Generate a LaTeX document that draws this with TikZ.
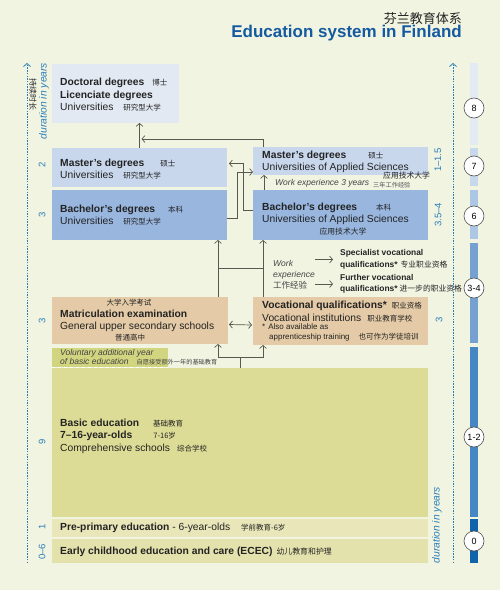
\documentclass[tikz,border=0pt]{standalone}
\usepackage{fontspec}
\setmainfont{Liberation Sans}
\newfontfamily\cjk{Noto Sans CJK SC}
\usetikzlibrary{positioning}
\usetikzlibrary{calc}
\usetikzlibrary{arrows.meta}
\definecolor{paper}{RGB}{242,244,226}
\definecolor{ink}{RGB}{35,35,35}
\definecolor{wire}{RGB}{88,88,78}
\definecolor{titleblue}{RGB}{20,90,160}
\definecolor{axisblue}{RGB}{40,125,185}
\definecolor{docblue}{RGB}{226,233,243}
\definecolor{masblue}{RGB}{200,215,236}
\definecolor{bacblue}{RGB}{152,182,222}
\definecolor{sand}{RGB}{228,202,166}
\definecolor{olive}{RGB}{221,220,150}
\definecolor{olivedark}{RGB}{210,213,128}
\definecolor{prefill}{RGB}{233,231,185}
\definecolor{ecfill}{RGB}{227,225,172}
\definecolor{barA}{RGB}{226,234,244}
\definecolor{barB}{RGB}{200,216,236}
\definecolor{barC}{RGB}{172,198,230}
\definecolor{barD}{RGB}{118,160,210}
\definecolor{barE}{RGB}{70,135,195}
\definecolor{barF}{RGB}{15,100,170}
\newcommand{\zh}[2][7.5]{{\cjk\mdseries\upshape\fontsize{#1}{#1}\selectfont #2}}

\begin{document}
\begin{tikzpicture}
    [x=1pt, y=-1pt,
    >={Straight Barb[length=3pt, width=7pt]},
    box/.style={anchor=north west, inner sep=0pt, outer sep=0pt},
    txt/.style={anchor=west, inner sep=0pt, align=left, text=ink, font=\fontsize{10.3}{12.5}\selectfont},
    note/.style={anchor=west, inner sep=0pt, align=left, text=ink!85, font=\fontsize{8.5}{11}\selectfont\itshape},
    years/.style={rotate=90, inner sep=0pt, text=axisblue, font=\fontsize{9.5}{10}\selectfont},
    level/.style={circle, draw=ink!80, fill=white, line width=0.6pt, minimum size=20pt, inner sep=0pt, font=\fontsize{9}{10}\selectfont},
    seg/.style={anchor=north west, inner sep=0pt, outer sep=0pt, minimum width=8pt},
    axis/.style={->, axisblue, line width=0.8pt, dash pattern=on 1.5pt off 1.2pt},
    link/.style={->, wire, line width=0.7pt}]
    \fill[paper] (0,0) rectangle (500,590);
    \useasboundingbox (0,0) rectangle (500,590);
    % title
    \node[anchor=east, inner sep=0pt, text=ink, font=\cjk\fontsize{13}{14}\selectfont] (zhtitle) at (462,19) {芬兰教育体系};
    \node[anchor=east, inner sep=0pt, text=titleblue, font=\fontsize{17}{18}\selectfont\bfseries] (title) at (462,33) {Education system in Finland};
    % boxes
    \node[box, fill=docblue, minimum width=127pt, minimum height=59pt] (doc) at (52,64) {};
    \node[box, fill=masblue, minimum width=175pt, minimum height=39pt] (mu) at (52,148) {};
    \node[box, fill=bacblue, minimum width=175pt, minimum height=50pt] (bu) at (52,190) {};
    \node[box, fill=masblue, minimum width=175pt, minimum height=28pt] (mua) at (253,147) {};
    \node[box, fill=bacblue, minimum width=175pt, minimum height=50pt] (bua) at (253,190) {};
    \node[box, fill=sand, minimum width=176pt, minimum height=47pt] (matric) at (52,297) {};
    \node[box, fill=sand, minimum width=175pt, minimum height=48pt] (voc) at (253,297) {};
    \node[box, fill=olivedark, minimum width=116pt, minimum height=19pt] (volun) at (52,348) {};
    \node[box, fill=olive, minimum width=376pt, minimum height=149pt] (basic) at (52,368) {};
    \node[box, fill=prefill, minimum width=376pt, minimum height=18pt] (pre) at (52,519) {};
    \node[box, fill=ecfill, minimum width=376pt, minimum height=24pt] (ecec) at (52,539) {};
    \draw[white, dashed, line width=0.8pt] (volun.south west) -- (volun.south east);
    % texts
    \node[txt] (doctxt) at (60,95) {\textbf{Doctoral degrees}\hspace{8pt}\zh{博士}\\ \textbf{Licenciate degrees}\\ Universities\hspace{10pt}\zh{研究型大学}};
    \node[txt] (mutxt) at (60,169) {\textbf{Master's degrees}\hspace{16pt}\zh{硕士}\\ Universities\hspace{10pt}\zh{研究型大学}};
    \node[txt] (butxt) at (60,215) {\textbf{Bachelor's degrees}\hspace{13pt}\zh{本科}\\ Universities\hspace{10pt}\zh{研究型大学}};
    \node[txt] (muatxt) at (262,162) {\textbf{Master's degrees}\hspace{22pt}\zh{硕士}\\ Universities of Applied Sciences};
    \node[anchor=west, inner sep=0pt, text=ink] (muazh) at (383,176) {\zh[7.8]{应用技术大学}};
    \node[note] (workthree) at (275,183) {Work experience 3 years};
    \node[anchor=west, inner sep=0pt, text=ink!80] (workthreezh) at (373,185) {\zh[6.2]{三年工作经验}};
    \node[txt] (buatxt) at (262,214) {\textbf{Bachelor's degrees}\hspace{19pt}\zh{本科}\\ Universities of Applied Sciences};
    \node[inner sep=0pt, text=ink] (buazh) at (343,232) {\zh[7.8]{应用技术大学}};
    \node[note] (work) at (273,275) {Work\\ experience\\ \zh[8.5]{工作经验}};
    \node[txt, font=\fontsize{8.4}{11.5}\selectfont\bfseries] (spec) at (340,259.5) {Specialist vocational\\ qualifications*\hspace{3pt}\zh[7.8]{专业职业资格}};
    \node[txt, font=\fontsize{8.4}{11.5}\selectfont\bfseries] (further) at (340,284) {Further vocational\\ qualifications*\hspace{2pt}\zh[7.8]{进一步的职业资格}};
    \node[inner sep=0pt, text=ink] (matriczh) at (129,303) {\zh[7.5]{大学入学考试}};
    \node[txt] (matrictxt) at (60,321) {\textbf{Matriculation examination}\\ General upper secondary schools};
    \node[inner sep=0pt, text=ink] (matriczhb) at (130,338) {\zh[7.5]{普通高中}};
    \node[txt] (voctxt) at (262,311.5) {\textbf{Vocational qualifications*}\hspace{5pt}\zh{职业资格}\\ Vocational institutions\hspace{6pt}\zh{职业教育学校}};
    \node[txt, font=\fontsize{8}{10.5}\selectfont] (vocnote) at (262,332.5) {*\hspace{3pt}Also available as\\ \hspace{7pt}apprenticeship training\hspace{9pt}\zh{也可作为学徒培训}};
    \node[note, font=\fontsize{8.5}{9}\selectfont\itshape] (voluntxt) at (60,357) {Voluntary additional year\\ of basic education\hspace{8pt}\zh[6.2]{自愿接受额外一年的基础教育}};
    \node[txt] (basictxt) at (60,436) {\textbf{Basic education}\hspace{14pt}\zh{基础教育}\\ \textbf{7--16-year-olds}\hspace{21pt}\zh{7-16岁}\\ Comprehensive schools\hspace{7pt}\zh{综合学校}};
    \node[txt] (pretxt) at (60,528) {\textbf{Pre-primary education} - 6-year-olds\hspace{11pt}\zh{学前教育-6岁}};
    \node[txt] (ecectxt) at (60,552) {\textbf{Early childhood education and care (ECEC)}\hspace{4pt}\zh[7.9]{幼儿教育和护理}};
    % connectors
    \draw[link] (mu.north) -- (mu.north |- doc.south);
    \draw[link] ([xshift=10pt]mua.north west) |- ([xshift=2pt, yshift=9pt]mu.north);
    \draw[link] ([yshift=-3pt]bu.east) -- ++(10,0) |- ([yshift=-11pt]mua.west);
    \draw[link] ([yshift=5pt]bua.west) -- ++(-10,0) |- ([xshift=2pt, yshift=4pt]mu.east);
    \draw[link] ([xshift=11pt]bua.north west) -- ([xshift=11pt]mua.south west);
    \draw[link] ([xshift=-10pt]matric.north east) -- ([xshift=-10pt]matric.north east |- bu.south);
    \draw[link] ([xshift=10pt]voc.north west) -- ([xshift=10pt]voc.north west |- bua.south);
    \coordinate (jl) at (218,268);
    \coordinate (jr) at (263,268);
    \draw[wire, line width=0.7pt] (jl) -- (jr);
    \draw[link] (work.east |- spec.west) -- ([xshift=-7pt]spec.west);
    \draw[link] (work.east |- further.west) -- ([xshift=-7pt]further.west);
    \draw[link, <->] ([xshift=1pt, yshift=-4pt]matric.east) -- ([xshift=-1pt, yshift=-4pt]voc.west);
    \coordinate (split) at (240,357);
    \draw[wire, line width=0.7pt] (basic.north) -- (split);
    \draw[link] (split) -| ([xshift=-10pt]matric.south east);
    \draw[link] (split) -| ([xshift=10pt]voc.south west);
    % left axis
    \coordinate (lbot) at (27,563);
    \coordinate (ltop) at (27,63);
    \draw[axis] (lbot) -- (ltop);
    \node[inner sep=0pt, rotate=-90, text=ink, font=\cjk\fontsize{8}{8}\selectfont] (lzh) at (33,94) {持续时长};
    \node[years, font=\fontsize{10.3}{11}\selectfont\itshape] (ldur) at (44,101) {duration in years};
    \node[years] (ymu) at (42,165) {2};
    \node[years] (ybu) at (42,215) {3};
    \node[years] (ymat) at (42,321) {3};
    \node[years] (ybas) at (42,442) {9};
    \node[years] (ypre) at (42,527) {1};
    \node[years] (yec) at (42,552) {0--6};
    % right axis
    \node[years] (ymua) at (438,160) {1--1.5};
    \node[years] (ybua) at (438,215) {3.5--4};
    \node[years] (yvoc) at (439,320) {3};
    \node[years, font=\fontsize{10.3}{11}\selectfont\itshape] (rdur) at (437,525) {duration in years};
    \coordinate (rbot) at (453,563);
    \coordinate (rtop) at (453,63);
    \draw[axis] (rbot) -- (rtop);
    % level bar
    \node[seg, fill=barA, minimum height=82pt] (s8) at (470,63) {};
    \node[seg, fill=barB, minimum height=38pt] (s7) at (470,148) {};
    \node[seg, fill=barC, minimum height=49pt] (s6) at (470,190) {};
    \node[seg, fill=barD, minimum height=100pt] (s34) at (470,243) {};
    \node[seg, fill=barE, minimum height=170pt] (s12) at (470,347) {};
    \node[seg, fill=barF, minimum height=44pt] (s0) at (470,519) {};
    \node[level] (l8) at (474,108) {8};
    \node[level] (l7) at (474,166) {7};
    \node[level] (l6) at (474,216) {6};
    \node[level] (l34) at (474,288) {3-4};
    \node[level] (l12) at (474,437) {1-2};
    \node[level] (l0) at (474,541) {0};
\end{tikzpicture}
\end{document}
